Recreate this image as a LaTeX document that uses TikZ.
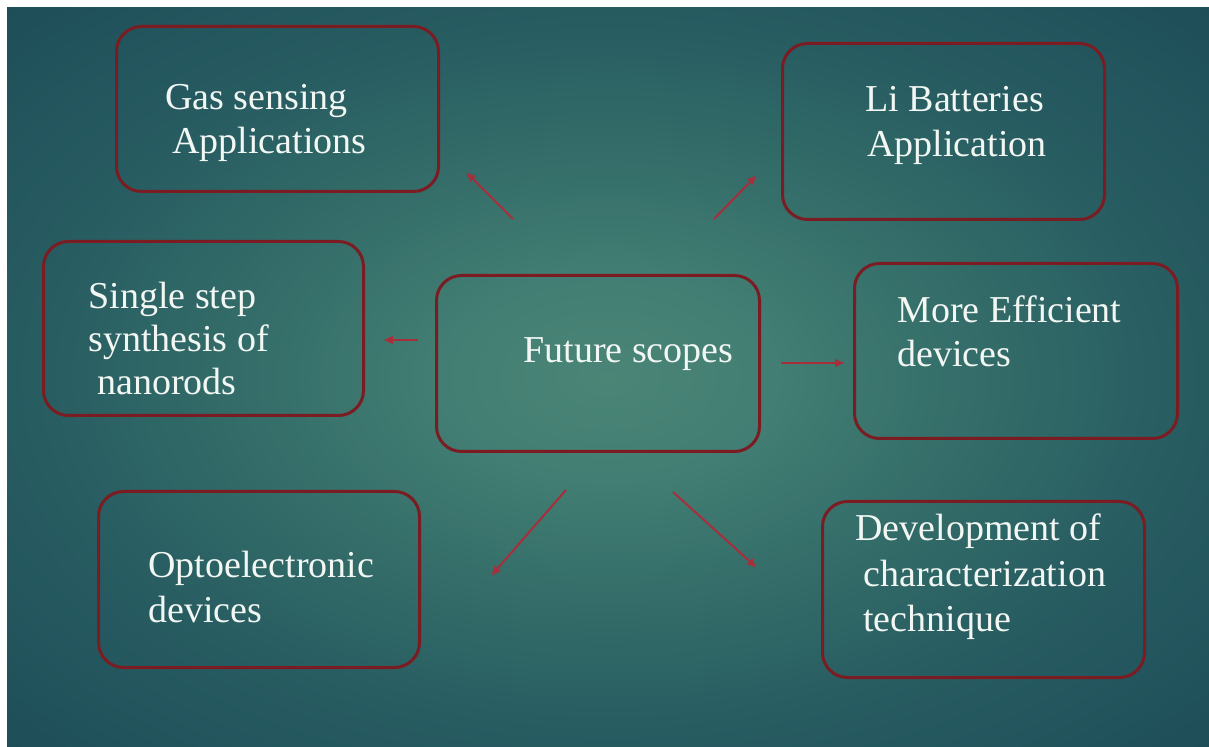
\documentclass[tikz,border=0pt]{standalone}
\usepackage{fontspec}
\setmainfont{Liberation Serif}
\newfontfamily\tnr{Liberation Serif}
\usetikzlibrary{arrows.meta}
\definecolor{bgA}{HTML}{4A8576}
\definecolor{bgB}{HTML}{427E73}
\definecolor{bgC}{HTML}{346D69}
\definecolor{bgD}{HTML}{275C61}
\definecolor{bgE}{HTML}{1F505A}
\definecolor{bgF}{HTML}{163E4C}
\definecolor{boxred}{HTML}{7B1C22}
\definecolor{arrred}{HTML}{A82E3C}
\definecolor{txtw}{HTML}{F2F7F4}
\pgfdeclareradialshading{bgshade}{\pgfpoint{0bp}{0bp}}{color(0bp)=(bgA); color(7bp)=(bgB); color(15bp)=(bgC); color(24bp)=(bgD); color(34bp)=(bgE); color(50bp)=(bgF)}
\tikzset{
  box/.style={draw=boxred, line width=1.5pt, rounded corners=12.5pt, anchor=north west, inner sep=0pt},
  txt/.style={text=txtw, anchor=base west, inner sep=0pt, font=\tnr\fontsize{19}{22.5}\selectfont},
  arr/.style={draw=arrred, line width=1pt, -{Latex[length=5pt,width=4.5pt]}}
}
\begin{document}
\begin{tikzpicture}[x=0.5pt,y=-0.5pt]
\useasboundingbox (0,0) rectangle (1209,747);
\fill[white] (0,0) rectangle (1209,747);
\shade[shading=bgshade] (7,8) rectangle (1209,747);
% boxes
\node[box, minimum width=161pt, minimum height=82.5pt] (gas) at (115,25) {};
\node[box, minimum width=161pt, minimum height=88pt] (li) at (781,42) {};
\node[box, minimum width=160pt, minimum height=87pt] (single) at (42,240) {};
\node[box, minimum width=161.5pt, minimum height=88pt] (fs) at (435,274) {};
\node[box, minimum width=161.5pt, minimum height=87.5pt] (eff) at (853,262) {};
\node[box, minimum width=160.5pt, minimum height=88pt] (opto) at (97,490) {};
\node[box, minimum width=161pt, minimum height=88pt] (dev) at (821,500) {};
% texts
\node[txt] (gas1) at (165,110) {Gas sensing};
\node[txt] (gas2) at (172,154) {Applications};
\node[txt] (li1) at (865,112) {Li Batteries};
\node[txt] (li2) at (867,157) {Application};
\node[txt] (s1) at (88,309) {Single step};
\node[txt] (s2) at (88,352) {synthesis of};
\node[txt] (s3) at (97,395) {nanorods};
\node[txt] (fs1) at (523,363) {Future scopes};
\node[txt] (e1) at (897,323) {More Efficient};
\node[txt] (e2) at (897,367) {devices};
\node[txt] (o1) at (148,578) {Optoelectronic};
\node[txt] (o2) at (148,623) {devices};
\node[txt] (d1) at (855,541) {Development of};
\node[txt] (d2) at (863,587) {characterization};
\node[txt] (d3) at (863,632) {technique};
% connector ends
\coordinate (gasT) at (513,219); \coordinate (gasH) at (466,172);
\coordinate (liT) at (714,219); \coordinate (liH) at (757,175);
\coordinate (sT) at (418,340); \coordinate (sH) at (383,340);
\coordinate (eT) at (781,363); \coordinate (eH) at (845,363);
\coordinate (oT) at (566,490); \coordinate (oH) at (491,576);
\coordinate (dT) at (673,492); \coordinate (dH) at (757,568);
\draw[arr] (gasT) -- (gasH);
\draw[arr] (liT) -- (liH);
\draw[arr] (sT) -- (sH);
\draw[arr] (eT) -- (eH);
\draw[arr] (oT) -- (oH);
\draw[arr] (dT) -- (dH);
\end{tikzpicture}
\end{document}
